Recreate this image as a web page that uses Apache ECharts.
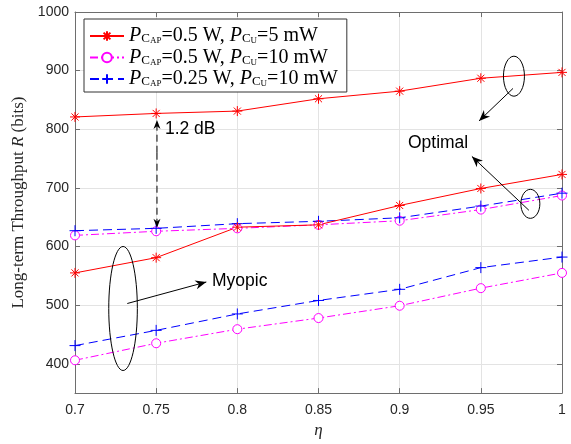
<!DOCTYPE html>
<html><head><meta charset="utf-8">
<script src="https://cdn.jsdelivr.net/npm/echarts@6/dist/echarts.min.js"></script>
<style>html,body{margin:0;padding:0;background:#fff}#c{width:571px;height:444px}</style>
</head><body><div id="c"></div>
<script>
const eta = [0.7, 0.75, 0.8, 0.85, 0.9, 0.95, 1];
const optA = [821, 827, 831, 852, 865, 887, 897];
const myoA = [555, 581, 633, 637, 670, 699, 723];
const optB = [619, 626, 631, 637, 644, 663, 687];
const myoB = [406, 435, 459, 478, 499, 529, 555];
const optC = [627, 631, 639, 643, 649, 669, 691];
const myoC = [431, 457, 485, 508, 527, 564, 582];
const xTicks = [0.7, 0.75, 0.8, 0.85, 0.9, 0.95, 1];
const yTicks = [400, 500, 600, 700, 800, 900, 1000];
const legendNames = ['A', 'B', 'C'];
const legendText = {
  A: '{i|P}{s|C}{ss|AP}{n|=0.5 W, }{i|P}{s|C}{ss|U}{n|=5 mW}',
  B: '{i|P}{s|C}{ss|AP}{n|=0.5 W, }{i|P}{s|C}{ss|U}{n|=10 mW}',
  C: '{i|P}{s|C}{ss|AP}{n|=0.25 W, }{i|P}{s|C}{ss|U}{n|=10 mW}'
};

const SERIF = 'Liberation Serif';
const SANS = 'Liberation Sans';
const starPath = 'path://M0,-10L0,10M-10,0L10,0M-7.07,-7.07L7.07,7.07M-7.07,7.07L7.07,-7.07';
const plusPath = 'path://M0,-10L0,10M-10,0L10,0';
const pairs = (ys) => eta.map((x, i) => [x, ys[i]]);

const styles = {
  A: {color: '#ff0000', type: 'solid', symbol: starPath, size: 10, fill: 'none'},
  B: {color: '#ff00ff', type: [8, 3, 2, 3], symbol: 'circle', size: 9, fill: '#ffffff'},
  C: {color: '#0000ff', type: [9, 5], symbol: plusPath, size: 11, fill: 'none'}
};
function mk(name, ys) {
  const s = styles[name];
  return {
    name: name, type: 'line', data: pairs(ys), symbol: s.symbol, symbolSize: s.size,
    showAllSymbol: true, animation: false, z: 3,
    lineStyle: {color: s.color, width: 1, type: s.type},
    itemStyle: {color: s.fill, borderColor: s.color, borderWidth: 1},
    emphasis: {disabled: true}
  };
}

const chart = echarts.init(document.getElementById('c'), null, {renderer: 'canvas'});
const axisCol = '#6e6e6e';
const gridCol = '#e3e3e3';
chart.setOption({
  animation: false,
  backgroundColor: '#fff',
  grid: {left: 75, top: 12, right: 9, bottom: 48},
  legend: {
    data: legendNames, orient: 'vertical', left: 84, top: 19,
    padding: [7, 9, 3, 5], itemGap: 1.5, itemWidth: 34, itemHeight: 12,
    backgroundColor: '#fff', borderColor: '#333', borderWidth: 1,
    formatter: (n) => legendText[n],
    textStyle: {
      color: '#000',
      rich: {
        i: {fontFamily: SERIF, fontStyle: 'italic', fontSize: 20, lineHeight: 20},
        n: {fontFamily: SERIF, fontSize: 20, lineHeight: 20},
        s: {fontFamily: SERIF, fontSize: 13, lineHeight: 14, padding: [6, 0, 0, 0]},
        ss: {fontFamily: SERIF, fontSize: 9, lineHeight: 10, padding: [10, 0, 0, 0]}
      }
    }
  },
  xAxis: [{
    type: 'value', min: 0.7, max: 1, interval: 0.05,
    name: 'η', nameLocation: 'middle', nameGap: 24,
    nameTextStyle: {fontFamily: SERIF, fontStyle: 'italic', fontSize: 17, color: '#262626'},
    axisLine: {lineStyle: {color: axisCol, width: 1}},
    axisTick: {inside: true, length: 5, lineStyle: {color: axisCol}},
    axisLabel: {fontFamily: SANS, fontSize: 14, color: '#262626', margin: 10,
      formatter: (v) => String(+v.toFixed(2))},
    splitLine: {show: true, lineStyle: {color: gridCol, width: 1}}
  }, {
    type: 'value', position: 'top', min: 0.7, max: 1, interval: 0.05,
    axisLine: {show: true, lineStyle: {color: axisCol, width: 1}},
    axisTick: {inside: true, length: 5, lineStyle: {color: axisCol}},
    axisLabel: {show: false}, splitLine: {show: false}
  }],
  yAxis: [{
    type: 'value', min: 350, max: 1000, interval: 50,
    name: '{n|Long-term Throughput }{i|R}{n| (bits)}', nameLocation: 'middle', nameGap: 42,
    nameTextStyle: {color: '#262626', rich: {
      n: {fontFamily: SERIF, fontSize: 17, color: '#262626'},
      i: {fontFamily: SERIF, fontStyle: 'italic', fontSize: 17, color: '#262626'}
    }},
    axisLine: {show: true, lineStyle: {color: axisCol, width: 1}},
    axisTick: {inside: true, length: 5, lineStyle: {color: axisCol}, customValues: yTicks},
    axisLabel: {fontFamily: SANS, fontSize: 14, color: '#262626', margin: 6, customValues: yTicks,
      formatter: (v) => String(v)},
    splitLine: {show: true, lineStyle: {color: gridCol, width: 1}}
  }, {
    type: 'value', position: 'right', min: 350, max: 1000, interval: 50,
    axisLine: {show: true, lineStyle: {color: axisCol, width: 1}},
    axisTick: {inside: true, length: 5, lineStyle: {color: axisCol}, customValues: yTicks},
    axisLabel: {show: false}, splitLine: {show: false}
  }],
  series: [mk('A', optA), mk('B', optB), mk('C', optC), mk('A', myoA), mk('B', myoB), mk('C', myoC)]
});

// annotations anchored in data coordinates
const P = (x, y) => chart.convertToPixel({gridIndex: 0}, [x, y]);
function arrowHead(tip, from, len, wid) {
  const dx = tip[0] - from[0], dy = tip[1] - from[1];
  const L = Math.hypot(dx, dy), ux = dx / L, uy = dy / L, nx = -uy, ny = ux;
  const bx = tip[0] - ux * len, by = tip[1] - uy * len;
  const mx = tip[0] - ux * len * 0.7, my = tip[1] - uy * len * 0.7;
  return {type: 'polygon', z: 10, shape: {points: [tip, [bx + nx * wid / 2, by + ny * wid / 2], [mx, my], [bx - nx * wid / 2, by - ny * wid / 2]]},
    style: {fill: '#000'}};
}
function arrow(from, to, dashed, len, wid) {
  return [
    {type: 'line', z: 10, shape: {x1: from[0], y1: from[1], x2: to[0], y2: to[1]},
      style: {stroke: '#000', lineWidth: 1, lineDash: dashed ? [7, 4] : null}},
    arrowHead(to, from, len, wid)
  ];
}
const ell = (c, rx, ry) => ({type: 'ellipse', z: 10, shape: {cx: c[0], cy: c[1], rx: rx, ry: ry}, style: {fill: 'none', stroke: '#000', lineWidth: 1}});
const txt = (p, s) => ({type: 'text', z: 10, x: p[0], y: p[1], style: {text: s, fontFamily: SANS, fontSize: 17.5, fill: '#000', verticalAlign: 'middle', align: 'left'}});

const g = [];
g.push(ell(P(0.9704, 890.5), 10.5, 20));
g.push(...arrow(P(0.9698, 869.6), P(0.9489, 814.3), false, 11, 9));
g.push(txt(P(0.9051, 776), 'Optimal'));
g.push(ell(P(0.9805, 672.8), 9.5, 14.5));
g.push(...arrow(P(0.9796, 661.8), P(0.9445, 753.7), false, 11, 9));
g.push(ell(P(0.7296, 494.3), 14.3, 62));
g.push(...arrow(P(0.7322, 502.8), P(0.7809, 539.5), false, 11, 9));
g.push(txt(P(0.7844, 540.1), 'Myopic'));
g.push(txt(P(0.7554, 799.4), '1.2 dB'));
{
  const a = P(0.7505, 760), b = P(0.7505, 816), c = P(0.7505, 632);
  g.push({type: 'line', z: 10, shape: {x1: a[0], y1: a[1], x2: b[0], y2: b[1]}, style: {stroke: '#000', lineWidth: 1, lineDash: [7, 4]}});
  g.push({type: 'line', z: 10, shape: {x1: a[0], y1: a[1], x2: c[0], y2: c[1]}, style: {stroke: '#000', lineWidth: 1, lineDash: [7, 4]}});
  g.push(arrowHead(b, a, 9, 7));
  g.push(arrowHead(c, a, 9, 7));
}
chart.setOption({graphic: g});
</script>
</body></html>
